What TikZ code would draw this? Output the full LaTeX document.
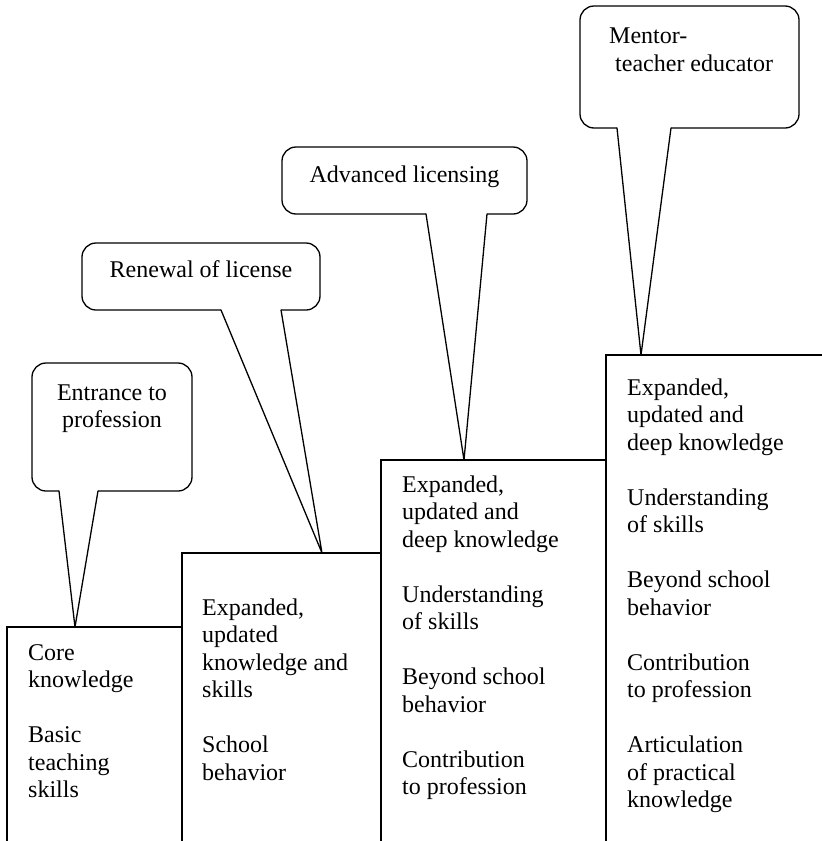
\documentclass[tikz,border=0pt]{standalone}
\usepackage{fontspec}
\setmainfont{Liberation Serif}
% first line of a text starts with \strut, so north = baseline - 19.25
\tikzset{
  stair/.style={line width=1.3pt},
  bubble/.style={line width=1.3pt, rounded corners=14pt},
  tail/.style={line width=1.3pt, line join=round, line cap=round},
  steptext/.style={inner sep=0pt, align=left, anchor=north west,
    font=\fontsize{24}{27.5}\selectfont},
  bubbletext/.style={inner sep=0pt, align=center, anchor=north,
    font=\fontsize{24}{27.5}\selectfont}
}
\begin{document}
\begin{tikzpicture}[x=1pt, y=-1pt]
    \useasboundingbox (0,0) rectangle (822,841);

    % Steps
    \foreach \l/\t/\r in {7/627/182, 182/553/381, 381/460/606, 606/355/822}
        \draw[stair] (\l,841) |- (\r,\t);

    \coordinate (tip1) at (75,627);
    \coordinate (tip2) at (322,553);
    \coordinate (tip3) at (464,460);
    \coordinate (tip4) at (641,355);

    % Step texts
    \node[steptext] (core) at (28,640.75) {\strut Core\\knowledge\\[27.5pt]Basic\\teaching\\skills};
    \node[steptext] (renew) at (202,595.75) {\strut Expanded,\\updated\\knowledge and\\skills\\[27.5pt]School\\behavior};
    \node[steptext] (adv) at (402,472.75) {\strut Expanded,\\updated and\\deep knowledge\\[27.5pt]Understanding\\of skills\\[27.5pt]Beyond school\\behavior\\[27.5pt]Contribution\\to profession};
    \node[steptext] (mentor) at (627,375.75) {\strut Expanded,\\updated and\\deep knowledge\\[27.5pt]Understanding\\of skills\\[27.5pt]Beyond school\\behavior\\[27.5pt]Contribution\\to profession\\[27.5pt]Articulation\\of practical\\knowledge};

    % Entrance to profession
    \draw[bubble] (98,491) -- (192,491) -- (192,363) -- (32,363) -- (32,491) -- (59,491);
    \draw[tail] (59,491) -- (tip1) -- (98,491);
    \node[bubbletext] (entrance) at (112,380.75) {\strut Entrance to\\profession};

    % Renewal of license
    \draw[bubble] (281,310) -- (320,310) -- (320,243) -- (82,243) -- (82,310) -- (221,310);
    \draw[tail] (221,310) -- (tip2) -- (281,310);
    \node[bubbletext] (renewal) at (201,257.75) {\strut Renewal of license};

    % Advanced licensing
    \draw[bubble] (487,214) -- (527,214) -- (527,147) -- (282,147) -- (282,214) -- (426,214);
    \draw[tail] (426,214) -- (tip3) -- (487,214);
    \node[bubbletext] (advanced) at (404.5,162.75) {\strut Advanced licensing};

    % Mentor-teacher educator
    \draw[bubble] (671,128) -- (799,128) -- (799,6) -- (580,6) -- (580,128) -- (617,128);
    \draw[tail] (617,128) -- (tip4) -- (671,128);
    \node[steptext] (educator) at (609,23.75) {\strut Mentor-\\[1pt]\hspace{6pt}teacher educator};
\end{tikzpicture}
\end{document}
